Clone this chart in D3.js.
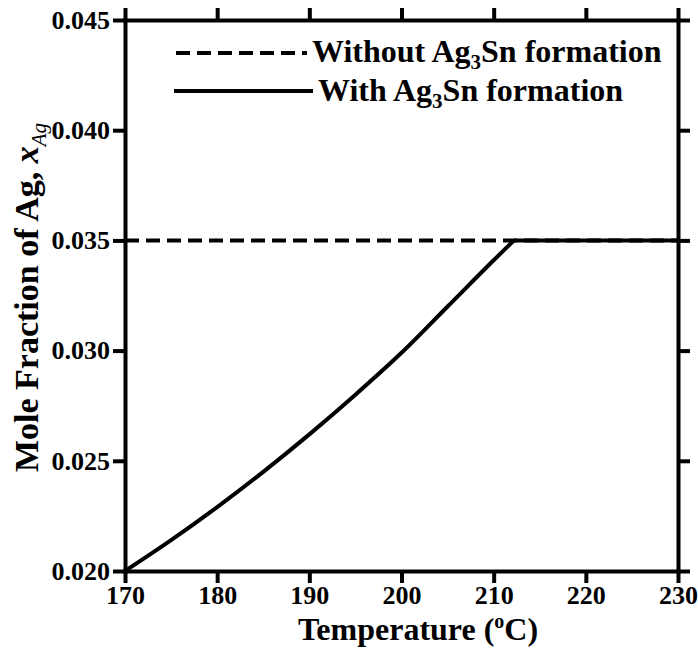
<!DOCTYPE html>
<html>
<head>
<meta charset="utf-8">
<script src="https://cdn.jsdelivr.net/npm/d3@7"></script>
<style>
  body { margin: 0; background: #fff; }
  svg text { font-family: "Liberation Serif", "Times New Roman", serif; font-weight: bold; fill: #000; }
</style>
</head>
<body>
<svg id="chart"></svg>
<script>
// temperature (C) and mole fraction of Ag
const temps = [170, 175, 180, 185, 190, 195, 200, 205, 210, 212.2, 230];
const withAg3Sn = [0.0200, 0.0214, 0.0229, 0.0245, 0.0262, 0.0280, 0.0299, 0.0320, 0.0341, 0.0350, 0.0350];
const breakIndex = 9; // where the curve reaches the plateau

const withoutTemps = [170, 230];
const withoutAg3Sn = [0.035, 0.035];

const xTicks = [170, 180, 190, 200, 210, 220, 230];
const yTicks = [0.020, 0.025, 0.030, 0.035, 0.040, 0.045];

drawChart()

function drawChart() {
  const width = 698;
  const height = 650;
  const margin = { top: 20, right: 20, bottom: 79, left: 125 };

  const svg = d3.select('#chart')
    .attr('width', width)
    .attr('height', height)

  const x = d3.scaleLinear()
    .domain([170, 230])
    .range([margin.left, width - margin.right])

  const y = d3.scaleLinear()
    .domain([0.020, 0.045])
    .range([height - margin.bottom, margin.top])

  const tick = 12;

  // all four sides, ticks pointing out
  const axes = [
    { gen: d3.axisBottom(x).tickValues(xTicks).tickFormat(d3.format('d')), at: `translate(0,${y.range()[0]})` },
    { gen: d3.axisTop(x).tickValues(xTicks).tickFormat(''), at: `translate(0,${y.range()[1]})` },
    { gen: d3.axisLeft(y).tickValues(yTicks).tickFormat(d3.format('.3f')), at: `translate(${x.range()[0]},0)` },
    { gen: d3.axisRight(y).tickValues(yTicks).tickFormat(''), at: `translate(${x.range()[1]},0)` }
  ]

  axes.forEach(a => {
    const g = svg.append('g')
      .attr('transform', a.at)
      .call(a.gen.tickSize(tick).tickSizeOuter(0).tickPadding(3))
    g.select('.domain').attr('stroke', '#000').attr('stroke-width', 4).attr('stroke-linecap', 'square')
    g.selectAll('.tick line').attr('stroke', '#000').attr('stroke-width', 4)
    g.selectAll('.tick text')
      .attr('font-size', '26px')
      .attr('font-family', '"Liberation Serif", serif')
      .attr('font-weight', 'bold')
      .attr('fill', '#000')
  })

  const line = d3.line()
    .x(d => x(d[0]))
    .y(d => y(d[1]))

  // without Ag3Sn formation: dashed
  svg.append('path')
    .datum(d3.zip(withoutTemps, withoutAg3Sn))
    .attr('fill', 'none')
    .attr('stroke', '#000')
    .attr('stroke-width', 4)
    .attr('stroke-dasharray', '14,7')
    .attr('d', line)

  // with Ag3Sn formation: rising part then plateau
  const pts = d3.zip(temps, withAg3Sn)
  svg.append('path')
    .datum(pts.slice(0, breakIndex + 1))
    .attr('fill', 'none')
    .attr('stroke', '#000')
    .attr('stroke-width', 4)
    .attr('d', line.curve(d3.curveMonotoneX))

  svg.append('path')
    .datum(pts.slice(breakIndex))
    .attr('fill', 'none')
    .attr('stroke', '#000')
    .attr('stroke-width', 4)
    .attr('d', line.curve(d3.curveLinear))

  // legend
  const legend = [
    { label: 'Without ', dash: '14,7', x1: 176, x2: 307, ly: 53, tx: 312, ty: 62 },
    { label: 'With ', dash: null, x1: 174, x2: 313, ly: 91, tx: 318, ty: 101 }
  ]
  legend.forEach(l => {
    svg.append('line')
      .attr('x1', l.x1).attr('x2', l.x2)
      .attr('y1', l.ly).attr('y2', l.ly)
      .attr('stroke', '#000')
      .attr('stroke-width', 4)
      .attr('stroke-dasharray', l.dash)
    const t = svg.append('text')
      .attr('x', l.tx)
      .attr('y', l.ty)
      .attr('font-size', '32px')
    t.append('tspan').text(l.label + 'Ag')
    t.append('tspan').attr('font-size', '21px').attr('dy', 7).text('3')
    t.append('tspan').attr('dy', -7).text('Sn formation')
  })

  // axis titles
  const xt = svg.append('text')
    .attr('x', 418)
    .attr('y', 640)
    .attr('text-anchor', 'middle')
    .attr('font-size', '32px')
  xt.append('tspan').text('Temperature (')
  xt.append('tspan').attr('font-size', '20px').attr('dy', -12).text('o')
  xt.append('tspan').attr('dy', 12).text('C)')

  const yt = svg.append('text')
    .attr('transform', `translate(38,${(y.range()[0] + y.range()[1]) / 2 + 2}) rotate(-90)`)
    .attr('text-anchor', 'middle')
    .attr('font-size', '34px')
  yt.append('tspan').text('Mole Fraction of Ag, ')
  yt.append('tspan').attr('font-style', 'italic').text('x')
  yt.append('tspan').attr('font-style', 'italic').attr('font-weight', 'normal')
    .attr('font-size', '21px').attr('dy', 8).text('Ag')
}
</script>
</body>
</html>
